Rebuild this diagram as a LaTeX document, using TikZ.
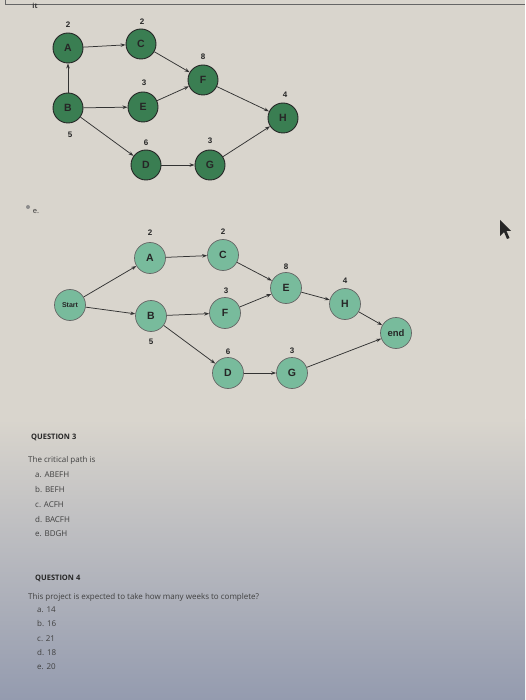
\documentclass[tikz,border=0pt]{standalone}
\usepackage{fontspec}
\setmainfont{Open Sans}
\newfontfamily\arialf{Liberation Sans}
\usetikzlibrary{arrows.meta}
\definecolor{bgtop}{RGB}{217,213,205}
\definecolor{bgbot}{RGB}{148,155,175}
\definecolor{topgreen}{RGB}{58,126,82}
\definecolor{botgreen}{RGB}{120,187,156}
\begin{document}
\begin{tikzpicture}[x=1pt,y=-1pt,
 topnode/.style={circle,draw=black!85,line width=0.9pt,fill=topgreen,minimum size=30pt,inner sep=0pt,font=\arialf\bfseries\fontsize{10.5}{10.5}\selectfont,text=black!85},
 botnode/.style={circle,draw=black!60,line width=0.7pt,fill=botgreen,minimum size=31pt,inner sep=0pt,font=\arialf\bfseries\fontsize{10.5}{10.5}\selectfont,text=black!85},
 wt/.style={font=\arialf\bfseries\fontsize{8}{8}\selectfont,text=black!85,inner sep=0pt},
 edge/.style={draw=black!80,line width=0.75pt,-{Stealth[length=5pt,width=3.5pt]}},
 qtext/.style={anchor=west,font=\fontsize{8}{9}\selectfont,text=black!75,inner sep=0pt},
 qhead/.style={anchor=west,font=\bfseries\fontsize{7.5}{9}\selectfont,text=black!85,inner sep=0pt}]
\useasboundingbox (0,0) rectangle (525,700);
\fill[bgtop] (0,0) rectangle (525,420);
\shade[top color=bgtop,bottom color=bgbot] (0,419) rectangle (525,700);
% top border line
\draw[black!60,line width=0.7pt] (5,0) -- (5,4) -- (525,4);
\node[font=\bfseries\fontsize{7}{7}\selectfont,text=black!80,inner sep=0pt] (mk) at (35,6) {it};
% ---------- first graph ----------
\node[topnode] (A) at (68,48) {A};
\node[topnode] (C) at (141,44) {C};
\node[topnode] (F) at (203,80) {F};
\node[topnode] (B) at (68,108) {B};
\node[topnode] (E) at (143,107) {E};
\node[topnode] (H) at (283,118) {H};
\node[topnode] (D) at (146,165) {D};
\node[topnode] (G) at (210,165) {G};
\node[wt] (wA) at (68,25) {2};
\node[wt] (wC) at (142,22) {2};
\node[wt] (wF) at (203,57) {8};
\node[wt] (wE) at (144,83) {3};
\node[wt] (wH) at (285,95) {4};
\node[wt] (wB) at (70,135) {5};
\node[wt] (wD) at (146,143) {6};
\node[wt] (wG) at (210,141) {3};
\draw[edge] (A) -- (C);
\draw[edge] (B) -- (A);
\draw[edge] (B) -- (E);
\draw[edge] (B) -- (D);
\draw[edge] (C) -- (F);
\draw[edge] (E) -- (F);
\draw[edge] (F) -- (H);
\draw[edge] (D) -- (G);
\draw[edge] (G) -- (H);
% ---------- option e ----------
\fill[black!45] (28,207) circle (2pt);
\node[font=\fontsize{7.5}{7.5}\selectfont,text=black!80,inner sep=0pt] (optE) at (36,212) {e.};
% ---------- second graph ----------
\node[botnode,font=\arialf\bfseries\fontsize{7}{7}\selectfont] (S) at (70,305) {Start};
\node[botnode] (A2) at (150,258) {A};
\node[botnode] (B2) at (151,316) {B};
\node[botnode] (C2) at (223,255) {C};
\node[botnode] (F2) at (225,313) {F};
\node[botnode] (E2) at (286,288) {E};
\node[botnode] (H2) at (345,304) {H};
\node[botnode,font=\arialf\bfseries\fontsize{9.5}{9.5}\selectfont] (N2) at (396,333) {end};
\node[botnode] (D2) at (228,373) {D};
\node[botnode] (G2) at (292,373) {G};
\node[wt] (wA2) at (150,233) {2};
\node[wt] (wB2) at (151,342) {5};
\node[wt] (wC2) at (223,232) {2};
\node[wt] (wF2) at (226,291) {3};
\node[wt] (wE2) at (286,267) {8};
\node[wt] (wH2) at (345,281) {4};
\node[wt] (wD2) at (228,352) {6};
\node[wt] (wG2) at (292,351) {3};
\draw[edge] (S) -- (A2);
\draw[edge] (S) -- (B2);
\draw[edge] (A2) -- (C2);
\draw[edge] (B2) -- (F2);
\draw[edge] (B2) -- (D2);
\draw[edge] (C2) -- (E2);
\draw[edge] (F2) -- (E2);
\draw[edge] (E2) -- (H2);
\draw[edge] (H2) -- (N2);
\draw[edge] (D2) -- (G2);
\draw[edge] (G2) -- (N2);
% cursor
\fill[black!85] (500,220) -- (500,236) -- (504,232) -- (507,239) -- (509.5,238) -- (506.5,231) -- (511,231) -- cycle;
% ---------- questions ----------
\node[qhead] (q3) at (31,437) {QUESTION 3};
\node[qtext] (q3t) at (28,460) {The critical path is};
\node[qtext] (q3a) at (35,475) {a. ABEFH};
\node[qtext] (q3b) at (35,490) {b. BEFH};
\node[qtext] (q3c) at (35,505) {c. ACFH};
\node[qtext] (q3d) at (35,520) {d. BACFH};
\node[qtext] (q3e) at (35,534) {e. BDGH};
\node[qhead] (q4) at (35,578) {QUESTION 4};
\node[qtext] (q4t) at (28,597) {This project is expected to take how many weeks to complete?};
\node[qtext] (q4a) at (37,610) {a. 14};
\node[qtext] (q4b) at (37,624) {b. 16};
\node[qtext] (q4c) at (37,639) {c. 21};
\node[qtext] (q4d) at (37,653) {d. 18};
\node[qtext] (q4e) at (37,667) {e. 20};
\end{tikzpicture}
\end{document}
